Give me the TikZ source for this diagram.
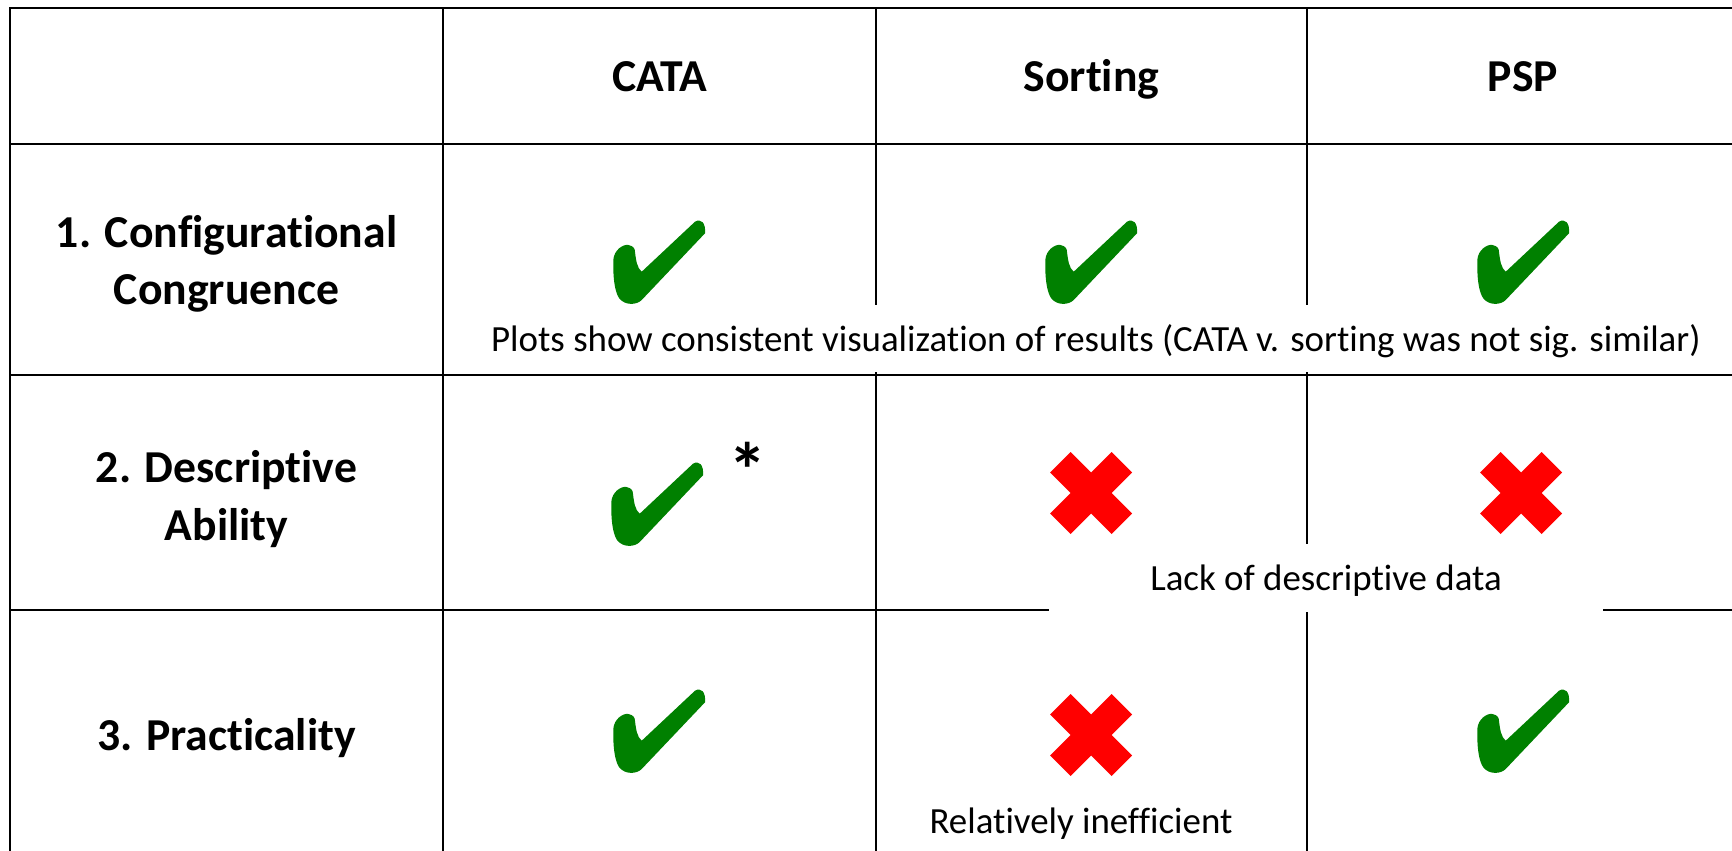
\documentclass[tikz,border=0pt]{standalone}
\usepackage{fontspec}
\setmainfont{Carlito}[Ligatures=NoCommon]
\usepackage{xcolor}
\definecolor{tickgreen}{RGB}{0,128,0}
\definecolor{crossred}{RGB}{255,0,0}

\tikzset{
  tablerule/.style={line width=1.3pt},
  headtext/.style={font=\fontsize{26}{33}\selectfont\bfseries, align=center, anchor=base},
  notetext/.style={font=\fontsize{21}{24}\selectfont, anchor=base, inner sep=0pt},
  okmark/.pic={
    \fill[tickgreen] (-17.3,9.7) -- (36,-40.3) .. controls (42,-44) and (47,-39) .. (46,-28.7)
      -- (-17.3,38) .. controls (-22,43) and (-34,44) .. (-40,36)
      .. controls (-45,28) and (-46,13) .. (-45.7,-2)
      .. controls (-45,-12) and (-36,-18) .. (-30.7,-17)
      .. controls (-26,-16) and (-24,-14) .. (-24,-10)
      .. controls (-23,-2) and (-22,6) .. (-17.3,9.7) -- cycle;
  },
  nomark/.pic={
    \fill[crossred] (0,-20.5) -- (20.5,-41) -- (41,-20.5) -- (20.5,0) -- (41,20.5) -- (20.5,41)
      -- (0,20.5) -- (-20.5,41) -- (-41,20.5) -- (-20.5,0) -- (-41,-20.5) -- (-20.5,-41) -- cycle;
  }
}

\begin{document}
\begin{tikzpicture}[x=0.02cm,y=-0.02cm]
  \useasboundingbox (0,0) rectangle (1732,851);
  % grid
  \draw[tablerule] (10,851) -- (10,8) -- (1732,8);
  \foreach \y in {144,375,610} \draw[tablerule] (10,\y) -- (1732,\y);
  \foreach \x in {443,876,1307} \draw[tablerule] (\x,8) -- (\x,851);

  % heads and criteria (base = last line)
  \foreach \x/\t [count=\i] in {659.5/CATA,1091.5/Sorting,1523/PSP}
    \node[headtext] (head\i) at (\x,92) {\t};
  \node[headtext] (crit1) at (226.5,305) {1. Configurational\\Congruence};
  \node[headtext] (crit2) at (226.5,540) {2. Descriptive\\Ability};
  \node[headtext] (crit3) at (226.5,750) {3. Practicality};

  % marks
  \foreach \x/\y in {659/262,1091/262,1523/262,657/504,659/731,1523/731}
    \pic at (\x,\y) {okmark};
  \foreach \x/\y in {1091/493,1521/493,1091/735}
    \pic at (\x,\y) {nomark};
  \node[font=\fontsize{44}{44}\selectfont\bfseries, anchor=base, inner sep=0pt] (star) at (748,497) {*};

  % remarks
  \node[notetext, fill=white, text height=0.94cm, text depth=0.4cm, minimum width=25cm] (plotsnote) at (1096,352)
    {Plots show consistent visualization of results (CATA v. sorting was not sig. similar)};
  \node[notetext, fill=white, text height=0.92cm, text depth=0.44cm, minimum width=11.08cm] (lacknote) at (1326,590)
    {Lack of descriptive data};
  \node[notetext] (effnote) at (1081,833) {Relatively inefficient};
\end{tikzpicture}
\end{document}
